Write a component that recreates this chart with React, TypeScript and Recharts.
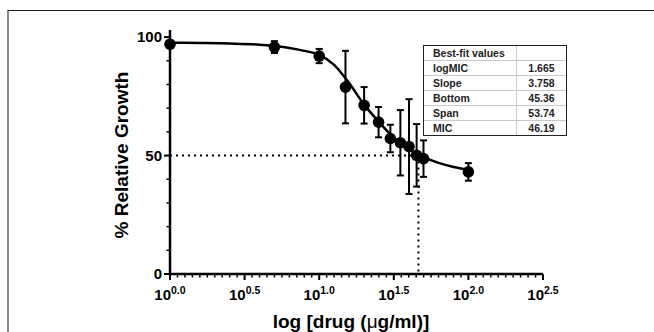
import React from 'react';
import { ComposedChart, Line, Scatter, ErrorBar, XAxis, YAxis, ReferenceLine } from 'recharts';

// measured points (x is log10 of dose)
const logDose = [0, 0.7, 1.0, 1.176, 1.301, 1.398, 1.477, 1.544, 1.602, 1.653, 1.699, 2.0];
const growth = [97.0, 95.8, 92.0, 78.9, 71.2, 64.1, 57.2, 55.4, 53.8, 50.1, 48.7, 43.1];
const sem = [0.8, 2.5, 3.0, 15.3, 7.7, 6.4, 5.8, 13.8, 20.0, 13.2, 7.7, 3.7];

// fitted curve
const fitLog = [0, 0.2, 0.4, 0.6, 0.7, 0.8, 0.9, 1.0, 1.1, 1.2, 1.3, 1.4, 1.5, 1.6, 1.7, 1.8, 1.9, 2.0];
const fitGrowth = [97.6, 97.5, 97.3, 96.8, 96.2, 95.4, 94.2, 92.5, 88.3, 80.6, 71.6, 64.2, 57.5, 52.6, 49.3, 46.9, 45.2, 44.0];

const fitLabels = ['logMIC', 'Slope', 'Bottom', 'Span', 'MIC'];
const fitValues = ['1.665', '3.758', '45.36', '53.74', '46.19'];

const xMajor = [0, 0.5, 1.0, 1.5, 2.0, 2.5];
const yMajor = [0, 50, 100];
const logMIC = 1.665;

const FONT = '"Liberation Sans", Arial, sans-serif';

const points = logDose.map((x, i) => ({ x, y: growth[i], err: sem[i] }));
const curve = fitLog.map((x, i) => ({ x, y: fitGrowth[i] }));

const xTicks: number[] = [];
for (let i = 0; i <= 50; i++) xTicks.push(Math.round(i * 5) / 100);
const yTicks: number[] = [];
for (let i = 0; i <= 10; i++) yTicks.push(i * 10);

const XTick = (props: any) => {
  const { x, y, payload } = props;
  const v = payload.value;
  const major = xMajor.some((m) => Math.abs(m - v) < 1e-6);
  return (
    <g>
      <line x1={x} x2={x} y1={y} y2={y + (major ? 6 : 3.5)} stroke="#000" strokeWidth={major ? 2 : 1.5} />
      {major && (
        <text x={x} y={y + 26} textAnchor="middle" fontFamily={FONT} fontWeight="bold" fontSize={15} fill="#000">
          <tspan>10</tspan>
          <tspan dy={-6} fontSize={10.5}>{v.toFixed(1)}</tspan>
        </text>
      )}
    </g>
  );
};

const YTick = (props: any) => {
  const { x, y, payload } = props;
  const v = payload.value;
  const major = yMajor.includes(v);
  return (
    <g>
      <line x1={x - (major ? 6 : 3.5)} x2={x} y1={y} y2={y} stroke="#000" strokeWidth={major ? 2 : 1.5} />
      {major && (
        <text x={x - 8} y={y + 5} textAnchor="end" fontFamily={FONT} fontWeight="bold" fontSize={15} fill="#000">
          {v}
        </text>
      )}
    </g>
  );
};

const Dot = (props: any) => <circle cx={props.cx} cy={props.cy} r={5.8} fill="#000" />;

const App = () => {
  return (
    <div style={{ position: 'absolute', left: 0, top: 0, width: 654, height: 332, overflow: 'hidden', background: '#fff' }}>
      <div style={{ position: 'absolute', left: 7, top: 10, width: 700, height: 400, borderTop: '1.5px solid #222', borderLeft: '2px solid #888' }} />
      <div style={{ position: 'absolute', left: 0, top: 0 }}>
        <ComposedChart width={654} height={332} margin={{ top: 30, right: 111, bottom: 18, left: 110 }}>
          <XAxis
            type="number"
            dataKey="x"
            domain={[0, 2.5]}
            ticks={xTicks}
            interval={0}
            tick={<XTick />}
            tickLine={false}
            tickSize={0}
            tickMargin={0}
            height={40}
            axisLine={{ stroke: '#000', strokeWidth: 2.5 }}
            label={{
              value: 'log [drug (μg/ml)]',
              content: () => (
                <text x={351} y={328} textAnchor="middle" fontFamily={FONT} fontWeight="bold" fontSize={19} fill="#000">
                  log [drug (<tspan fontWeight="normal">μ</tspan>g/ml)]
                </text>
              ),
            }}
          />
          <YAxis
            type="number"
            dataKey="y"
            domain={[0, 103]}
            ticks={yTicks}
            interval={0}
            tick={<YTick />}
            tickLine={false}
            tickSize={0}
            tickMargin={0}
            width={60}
            axisLine={{ stroke: '#000', strokeWidth: 2.5 }}
            label={{
              value: '% Relative Growth',
              content: () => (
                <text
                  x={121}
                  y={155}
                  transform="rotate(-90 121 155)"
                  textAnchor="middle"
                  dominantBaseline="central"
                  fontFamily={FONT}
                  fontWeight="bold"
                  fontSize={19}
                  fill="#000"
                >
                  % Relative Growth
                </text>
              ),
            }}
          />
          <ReferenceLine
            segment={[{ x: 0, y: 50 }, { x: logMIC, y: 50 }]}
            stroke="#000"
            strokeWidth={2}
            strokeDasharray="2 4"
            ifOverflow="visible"
          />
          <ReferenceLine
            segment={[{ x: logMIC, y: 50 }, { x: logMIC, y: 0 }]}
            stroke="#000"
            strokeWidth={2}
            strokeDasharray="2 4"
            ifOverflow="visible"
          />
          <Line data={curve} dataKey="y" type="monotone" stroke="#000" strokeWidth={2.5} dot={false} isAnimationActive={false} />
          <Scatter data={points} dataKey="y" fill="#000" shape={<Dot />} isAnimationActive={false}>
            <ErrorBar dataKey="err" direction="y" width={3.5} stroke="#000" strokeWidth={2} isAnimationActive={false} />
          </Scatter>
        </ComposedChart>
      </div>
      <div
        style={{
          position: 'absolute',
          left: 423,
          top: 45,
          width: 142,
          border: '1.5px solid #222',
          fontFamily: FONT,
          fontWeight: 'bold',
          fontSize: 10.5,
          color: '#222',
          background: '#fff',
        }}
      >
        {[['Best-fit values', ''], ...fitLabels.map((l, i) => [l, fitValues[i]])].map((row, i) => (
          <div key={i} style={{ display: 'flex', height: 14, lineHeight: '14px', borderTop: i ? '1px solid #c8c8c8' : 'none' }}>
            <div style={{ width: 93, paddingLeft: 9, boxSizing: 'border-box', borderRight: '1px solid #c8c8c8' }}>{row[0]}</div>
            <div style={{ flex: 1, textAlign: 'center' }}>{row[1]}</div>
          </div>
        ))}
      </div>
    </div>
  );
};

export default App;
